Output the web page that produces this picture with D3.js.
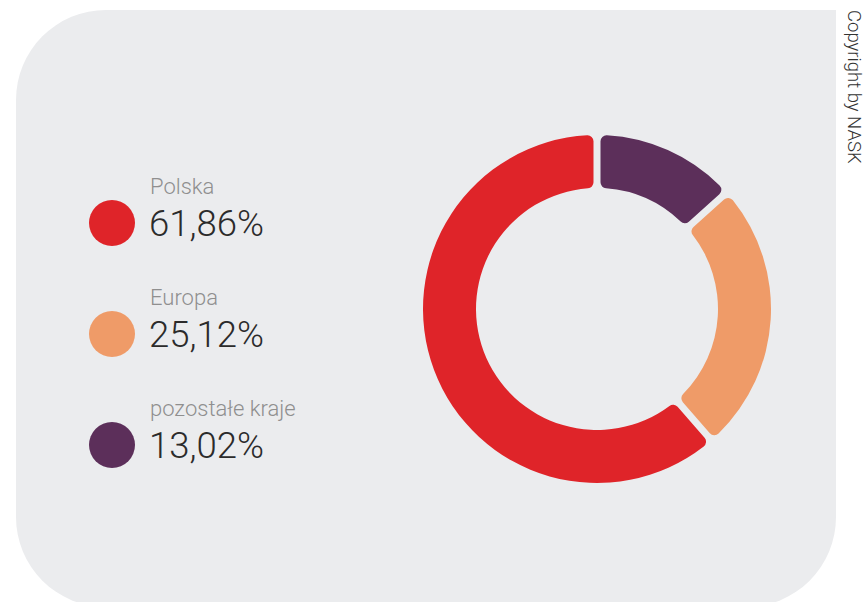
<!DOCTYPE html>
<html>
<head>
<meta charset="utf-8">
<script src="https://cdn.jsdelivr.net/npm/d3@7"></script>
<style>
  body { margin: 0; background: #ffffff; }
  svg { display: block; font-family: Roboto, "Noto Sans", sans-serif; }
</style>
</head>
<body>
<svg width="864" height="602"></svg>
<script>
// data
var labels = ["Polska", "Europa", "pozostałe kraje"];
var values = [61.86, 25.12, 13.02];
var colors = ["#df2429", "#ef9b68", "#5c2f5a"];

var svg = d3.select("svg"),
    width = +svg.attr("width"),
    height = +svg.attr("height");

// background panel: rounded except the top right corner
var x0 = 16, y0 = 10, x1 = 836, y1 = 607, r = 90;
var panel = d3.path();
panel.moveTo(x0 + r, y0);
panel.lineTo(x1, y0);
panel.lineTo(x1, y1 - r);
panel.arcTo(x1, y1, x1 - r, y1, r);
panel.lineTo(x0 + r, y1);
panel.arcTo(x0, y1, x0, y1 - r, r);
panel.lineTo(x0, y0 + r);
panel.arcTo(x0, y0, x0 + r, y0, r);
panel.closePath();
svg.append("path").attr("d", panel.toString()).attr("fill", "#ebecee");

// donut
var data = labels.map(function (d, i) { return { label: d, value: values[i], color: colors[i] }; });

var pie = d3.pie()
    .value(function (d) { return d.value; })
    .sort(function (a, b) { return a.value - b.value; }) // smallest first, clockwise from top
    .padAngle(0.033);

var arc = d3.arc()
    .innerRadius(121)
    .outerRadius(174)
    .cornerRadius(6);

svg.append("g")
    .attr("transform", "translate(597,309)")
  .selectAll("path")
  .data(pie(data))
  .enter()
  .append("path")
    .attr("d", arc)
    .attr("fill", function (d) { return d.data.color; });

// legend
var legend = svg.append("g")
  .selectAll("g")
  .data(data)
  .enter()
  .append("g")
    .attr("transform", function (d, i) { return "translate(112," + (223 + i * 111) + ")"; });

legend.append("circle")
    .attr("r", 23)
    .attr("fill", function (d) { return d.color; });

legend.append("text")
    .attr("x", 38)
    .attr("y", -29)
    .attr("font-size", 22)
    .attr("font-weight", 300)
    .attr("fill", "#8f8f8f")
    .text(function (d) { return d.label; });

legend.append("text")
    .attr("x", 37)
    .attr("y", 13)
    .attr("font-size", 36.5)
    .attr("font-weight", 300)
    .attr("fill", "#2b2b2b")
    .text(function (d) { return d3.format(".2f")(d.value).replace(".", ",") + "%"; });

// copyright note on the right edge
svg.append("text")
    .attr("transform", "translate(848,10) rotate(90)")
    .attr("font-size", 18.5)
    .attr("font-weight", 300)
    .attr("fill", "#333")
    .text("Copyright by NASK");
</script>
</body>
</html>
